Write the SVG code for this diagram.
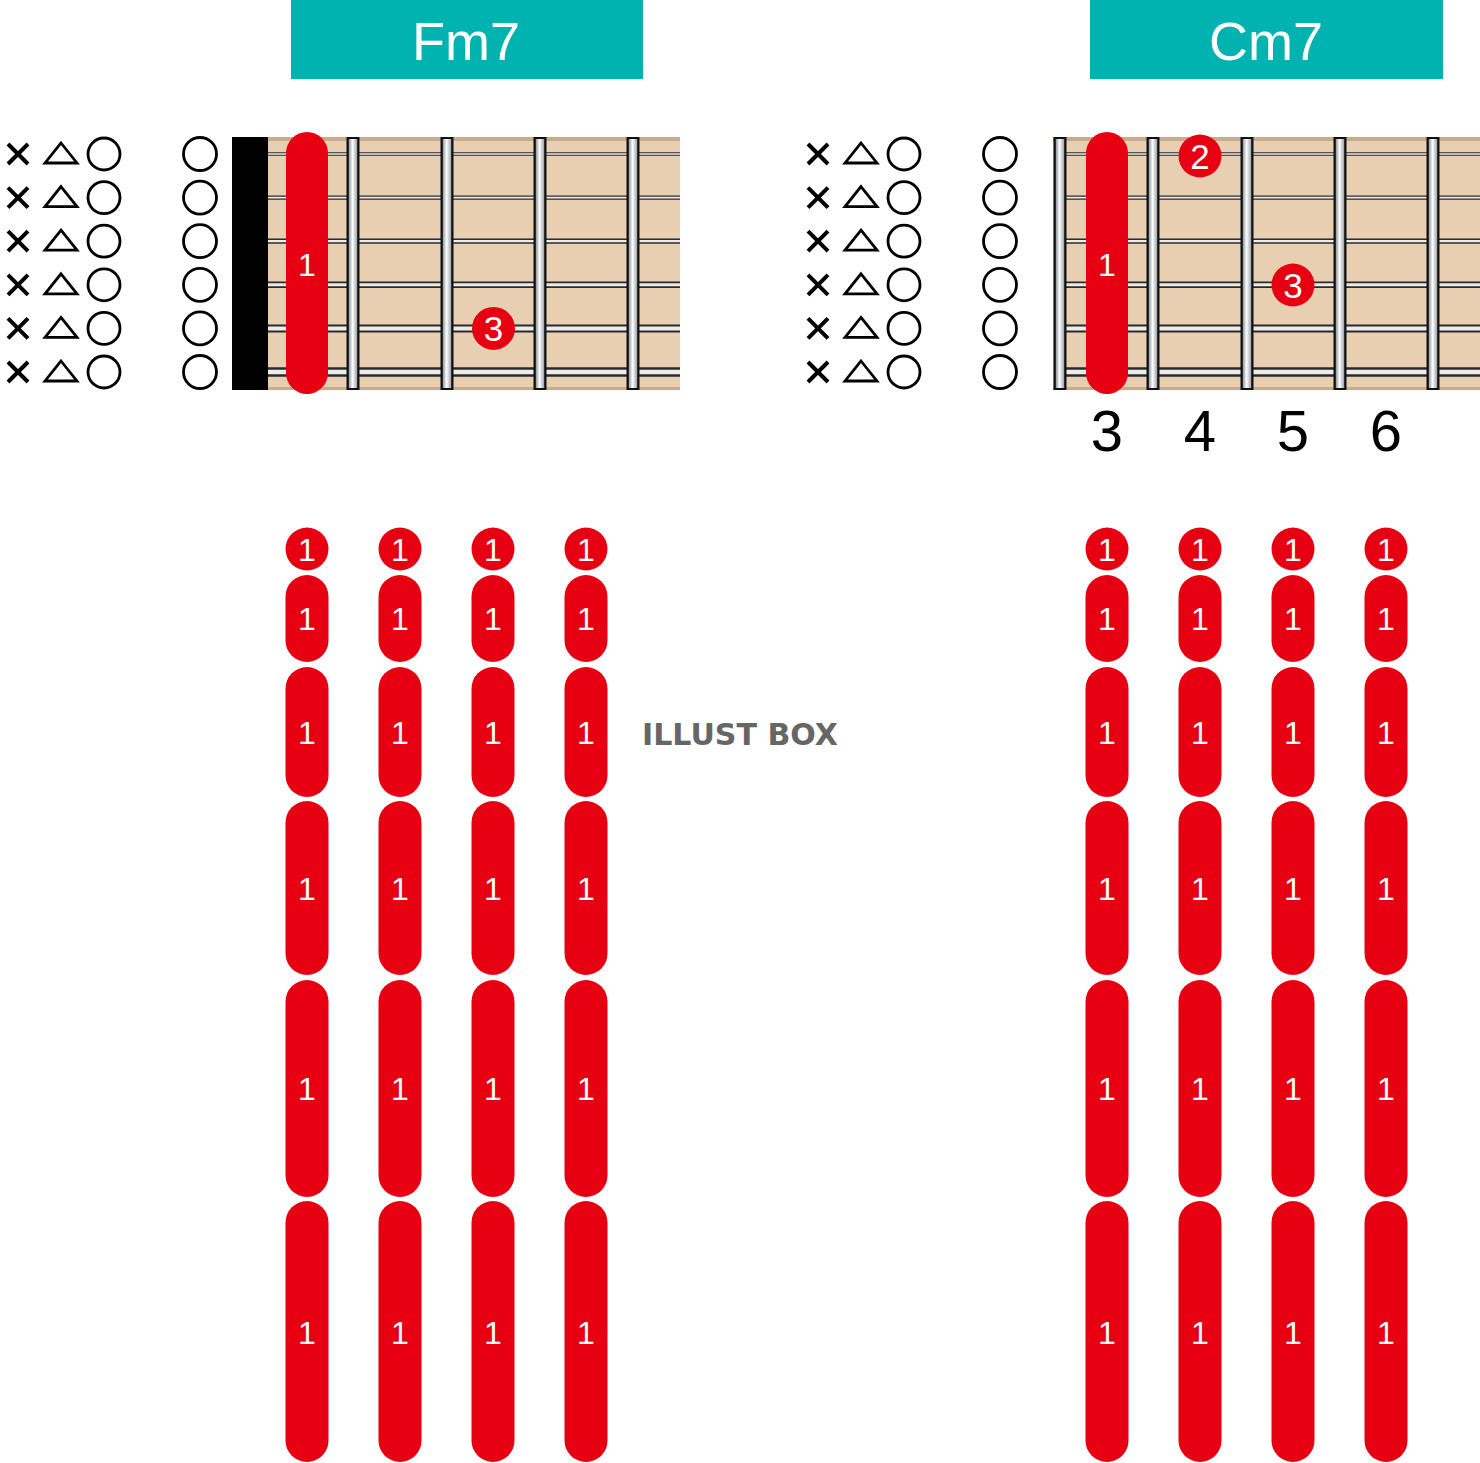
<svg xmlns="http://www.w3.org/2000/svg" width="1480" height="1463" viewBox="0 0 1480 1463">
<style>
.hdr{fill:#00B2B0}
.hdrt{fill:#fff;font-family:"Liberation Sans",Arial,sans-serif;font-size:54px;text-anchor:middle}
.board{fill:#E8CFB2}
.edge{fill:#C7AB8C}
.so{stroke:#2b2b2b;fill:none}
.si{stroke:#ececec;fill:none}
.fo{fill:#111}
.fi{fill:url(#fg)}
.red{fill:#E60012}
.wt{fill:#fff;font-family:"Liberation Sans",Arial,sans-serif;font-size:32px;text-anchor:middle}
.dn{fill:#fff;font-family:"Liberation Sans",Arial,sans-serif;font-size:35px;text-anchor:middle}
.sym{stroke:#000;fill:none;stroke-width:2.8}
.x{stroke:#000;stroke-width:4;fill:none}
.num{fill:#000;font-family:"Liberation Sans",Arial,sans-serif;font-size:58px;text-anchor:middle}
.logo{fill:#666;font-family:"DejaVu Sans","Liberation Sans",sans-serif;font-size:31px;font-weight:bold}
</style>
<defs>
<linearGradient id="fg" x1="0" y1="0" x2="1" y2="0">
<stop offset="0" stop-color="#8d969c"/><stop offset="0.45" stop-color="#ffffff"/><stop offset="1" stop-color="#9aa2a8"/>
</linearGradient>
<g id="symrow">
<path class="x" d="M8,-10 L28,10 M28,-10 L8,10"/>
<path class="sym" d="M61,-11 L77,9 L45,9 Z"/>
<circle class="sym" cx="104" cy="0" r="16"/>
<circle class="sym" cx="200" cy="0" r="16.5"/>
</g>
<g id="strings">
<line class="so" x1="0" x2="1" y1="154" y2="154" stroke-width="3.4"/>
<line class="si" x1="0" x2="1" y1="154" y2="154" stroke-width="1.4"/>
<line class="so" x1="0" x2="1" y1="197.6" y2="197.6" stroke-width="4.2"/>
<line class="si" x1="0" x2="1" y1="197.6" y2="197.6" stroke-width="1.8"/>
<line class="so" x1="0" x2="1" y1="241.2" y2="241.2" stroke-width="5.2"/>
<line class="si" x1="0" x2="1" y1="241.2" y2="241.2" stroke-width="2.2"/>
<line class="so" x1="0" x2="1" y1="284.8" y2="284.8" stroke-width="6.4"/>
<line class="si" x1="0" x2="1" y1="284.8" y2="284.8" stroke-width="3"/>
<line class="so" x1="0" x2="1" y1="328.4" y2="328.4" stroke-width="8"/>
<line class="si" x1="0" x2="1" y1="328.4" y2="328.4" stroke-width="4"/>
<line class="so" x1="0" x2="1" y1="372" y2="372" stroke-width="9.4"/>
<line class="si" x1="0" x2="1" y1="372" y2="372" stroke-width="4.6"/>
</g>
<g id="fret">
<rect class="fo" x="-6.5" y="137" width="13" height="253"/>
<rect class="fi" x="-4.2" y="139" width="8.4" height="249"/>
</g>
<g id="col">
<circle class="red" cx="0" cy="549" r="21.5"/>
<text class="wt" x="0" y="560.5">1</text>
<rect class="red" x="-21.5" y="575" width="43" height="87" rx="21.5"/>
<text class="wt" x="0" y="630">1</text>
<rect class="red" x="-21.5" y="667" width="43" height="130" rx="21.5"/>
<text class="wt" x="0" y="744">1</text>
<rect class="red" x="-21.5" y="801" width="43" height="174" rx="21.5"/>
<text class="wt" x="0" y="900">1</text>
<rect class="red" x="-21.5" y="980" width="43" height="217" rx="21.5"/>
<text class="wt" x="0" y="1100">1</text>
<rect class="red" x="-21.5" y="1201" width="43" height="261" rx="21.5"/>
<text class="wt" x="0" y="1344">1</text>
</g>
</defs>
<rect width="1480" height="1463" fill="#fff"/>

<g id="fm7">
<g id="fm7-title">
<rect class="hdr" x="291" y="0" width="352" height="79"/>
<text class="hdrt" x="466" y="60">Fm7</text>
</g>
<g id="fm7-symbols">
<use href="#symrow" y="154"/>
<use href="#symrow" y="197.6"/>
<use href="#symrow" y="241.2"/>
<use href="#symrow" y="284.8"/>
<use href="#symrow" y="328.4"/>
<use href="#symrow" y="372"/>
</g>
<g id="fm7-board">
<rect class="board" x="232" y="137" width="448" height="253"/>
<rect class="edge" x="232" y="137" width="448" height="4"/>
<rect class="edge" x="232" y="387" width="448" height="3"/>
<use href="#strings" transform="translate(268,0) scale(412,1)"/>
<rect x="232" y="137" width="36" height="253" fill="#000"/>
<use href="#fret" x="353"/>
<use href="#fret" x="447"/>
<use href="#fret" x="540"/>
<use href="#fret" x="633"/>
</g>
<g id="fm7-barre">
<rect class="red" x="286" y="132" width="42" height="262" rx="21"/>
<text class="wt" x="307" y="276">1</text>
</g>
<g id="fm7-dot3">
<circle class="red" cx="493.5" cy="328.4" r="21.5"/>
<text class="dn" x="493.5" y="341">3</text>
</g>
<g id="fm7-bars">
<use href="#col" x="307"/>
<use href="#col" x="400"/>
<use href="#col" x="493"/>
<use href="#col" x="586"/>
</g>
</g>

<g id="cm7">
<g id="cm7-title">
<rect class="hdr" x="1090" y="0" width="353" height="79"/>
<text class="hdrt" x="1266" y="60">Cm7</text>
</g>
<g id="cm7-symbols">
<use href="#symrow" x="800" y="154"/>
<use href="#symrow" x="800" y="197.6"/>
<use href="#symrow" x="800" y="241.2"/>
<use href="#symrow" x="800" y="284.8"/>
<use href="#symrow" x="800" y="328.4"/>
<use href="#symrow" x="800" y="372"/>
</g>
<g id="cm7-board">
<rect class="board" x="1053" y="137" width="427" height="253"/>
<rect class="edge" x="1053" y="137" width="427" height="4"/>
<rect class="edge" x="1053" y="387" width="427" height="3"/>
<use href="#strings" transform="translate(1060,0) scale(420,1)"/>
<use href="#fret" x="1060"/>
<use href="#fret" x="1153"/>
<use href="#fret" x="1247"/>
<use href="#fret" x="1340"/>
<use href="#fret" x="1433"/>
</g>
<g id="cm7-barre">
<rect class="red" x="1086" y="132" width="42" height="262" rx="21"/>
<text class="wt" x="1107" y="276">1</text>
</g>
<g id="cm7-dot2">
<circle class="red" cx="1200" cy="156" r="21.5"/>
<text class="dn" x="1200" y="168.5">2</text>
</g>
<g id="cm7-dot3">
<circle class="red" cx="1293" cy="285" r="21.5"/>
<text class="dn" x="1293" y="297.5">3</text>
</g>
<g id="cm7-frets">
<text class="num" x="1107" y="451">3</text>
<text class="num" x="1200" y="451">4</text>
<text class="num" x="1293" y="451">5</text>
<text class="num" x="1386" y="451">6</text>
</g>
<g id="cm7-bars">
<use href="#col" x="1107"/>
<use href="#col" x="1200"/>
<use href="#col" x="1293"/>
<use href="#col" x="1386"/>
</g>
</g>

<g id="connectors"></g>
<text class="logo" x="642" y="745" textLength="196" lengthAdjust="spacingAndGlyphs">ILLUST BOX</text>
</svg>
